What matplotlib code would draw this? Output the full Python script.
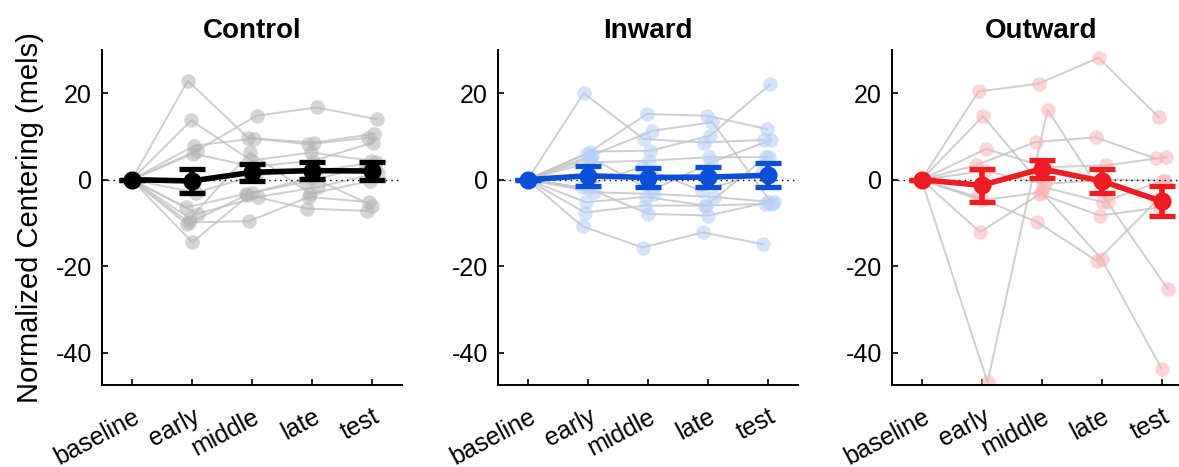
import numpy as np
import matplotlib
matplotlib.use("Agg")
import matplotlib.pyplot as plt
from matplotlib.transforms import ScaledTranslation

plt.rcParams['font.family'] = ['Liberation Sans', 'DejaVu Sans']
plt.rcParams['axes.unicode_minus'] = False

conditions = ["baseline", "early", "middle", "late", "test"]
panel_titles = ["Control", "Inward", "Outward"]

# individual subjects: values for early, middle, late, test (baseline = 0)
control_subjects = [
    [22.9, 9.7, 8.2, 9.7],
    [13.7, 4.4, 6.3, 4.4],
    [6.7, 14.8, 16.7, 14.0],
    [7.9, 9.5, 8.6, 10.6],
    [6.0, 3.0, 4.4, 8.6],
    [-6.4, -3.3, -0.5, 3.0],
    [-7.9, -4.0, -1.7, 1.5],
    [-9.0, 6.3, -3.3, -0.3],
    [-9.9, -9.6, -4.0, -5.2],
    [-10.3, -3.5, -6.7, -7.2],
    [-14.5, -3.0, 0.5, -6.0],
    [-3.0, 1.0, 2.0, 4.0],
]
inward_subjects = [
    [20.0, 9.4, 8.6, 9.2],
    [6.0, 15.2, 14.8, 11.7],
    [5.7, 11.3, 13.3, -5.6],
    [6.5, 6.7, 10.2, 22.1],
    [4.0, 4.4, 5.2, 5.2],
    [-1.8, 3.0, -2.6, 1.5],
    [-2.9, -3.3, -4.0, -5.2],
    [-5.2, -4.0, -6.0, 5.2],
    [-7.6, -6.0, -6.0, -5.6],
    [-10.8, -15.7, -12.2, -14.9],
    [-2.0, -7.9, -8.3, -5.2],
    [5.0, -2.5, 4.0, 9.2],
]
outward_subjects = [
    [20.4, 22.2, 28.2, 14.5],
    [14.7, -1.7, -5.2, -0.2],
    [-46.9, 16.2, -5.2, -25.2],
    [7.1, 2.9, 3.3, 5.2],
    [3.3, 8.7, 9.8, 4.9],
    [-4.8, -2.9, -18.3, -43.7],
    [-12.1, -3.3, -8.3, -6.4],
    [-4.0, -9.8, -18.8, -4.8],
    [2.0, -1.0, 0.0, -0.2],
]

# group means and SEM for baseline, early, middle, late, test
control_mean = [0.0, -0.3, 1.7, 2.1, 2.0]
control_sem = [0.0, 2.7, 2.0, 2.0, 2.0]
inward_mean = [0.0, 0.9, 0.5, 0.6, 1.0]
inward_sem = [0.0, 2.3, 2.3, 2.3, 2.8]
outward_mean = [0.0, -1.3, 2.5, -0.3, -5.0]
outward_sem = [0.0, 3.8, 2.0, 2.8, 3.5]

baseline_value = 0.0

dark_colors = ["#000000", "#0a4fd6", "#ee1c23"]
light_colors = ["#b4b4b4", "#b4cff7", "#f8b4b6"]

W, H = 1179, 467
fig = plt.figure(figsize=(W / 100, H / 100), dpi=100)

lefts_px = [101.7, 497.5, 891.5]
ax_w_px = 300.0
ax_top_px, ax_bot_px = 50.0, 385.0

all_subjects = [control_subjects, inward_subjects, outward_subjects]
all_means = [control_mean, inward_mean, outward_mean]
all_sems = [control_sem, inward_sem, outward_sem]

x = np.arange(1, len(conditions) + 1)
shift = ScaledTranslation(12 / 100, 0, fig.dpi_scale_trans)

for i in range(3):
    ax = fig.add_axes([lefts_px[i] / W, (H - ax_bot_px) / H, ax_w_px / W,
                       (ax_bot_px - ax_top_px) / H])
    subj = all_subjects[i]
    n = len(subj)
    jit = np.linspace(-0.1, 0.1, n)
    order = np.argsort(np.sin(np.arange(n) * 2.3))
    jit = jit[order]
    for k, s in enumerate(subj):
        vals = [baseline_value] + list(s)
        xs = x + np.r_[0.0, np.full(4, jit[k])]
        ax.plot(xs, vals, color="#c4c4c4", lw=1.4, alpha=0.8, zorder=1)
        ax.plot(xs, vals, 'o', color=light_colors[i], ms=10.5, alpha=0.55,
                mec='none', zorder=2)
    ax.axhline(0, color='black', lw=1.0, ls=(0, (1, 3)), zorder=3)
    ax.errorbar(x, all_means[i], yerr=all_sems[i], color=dark_colors[i],
                lw=4, elinewidth=4, capsize=9.5, capthick=3.8,
                marker='o', ms=12, zorder=5)
    ax.set_xlim(0.5, 5.5)
    ax.set_ylim(-47.5, 30)
    ax.set_yticks([-40, -20, 0, 20])
    ax.set_xticks(x)
    for sp in ['top', 'right']:
        ax.spines[sp].set_visible(False)
    for sp in ['left', 'bottom']:
        ax.spines[sp].set_linewidth(1.4)
    ax.tick_params(direction='in', length=4, width=1.2, labelsize=18)
    ax.tick_params(axis='y', pad=7)
    ax.tick_params(axis='x', pad=14)
    ax.set_xticklabels(conditions, rotation=28, ha='right')
    for tick in ax.xaxis.get_major_ticks():
        tick.label1.set_transform(tick.label1.get_transform() + shift)
    ax.set_title(panel_titles[i], fontsize=20, fontweight='bold', pad=9)
    if i == 0:
        ax.set_ylabel("Normalized Centering (mels)", fontsize=21, labelpad=8)

fig.savefig("out.png", dpi=100)
